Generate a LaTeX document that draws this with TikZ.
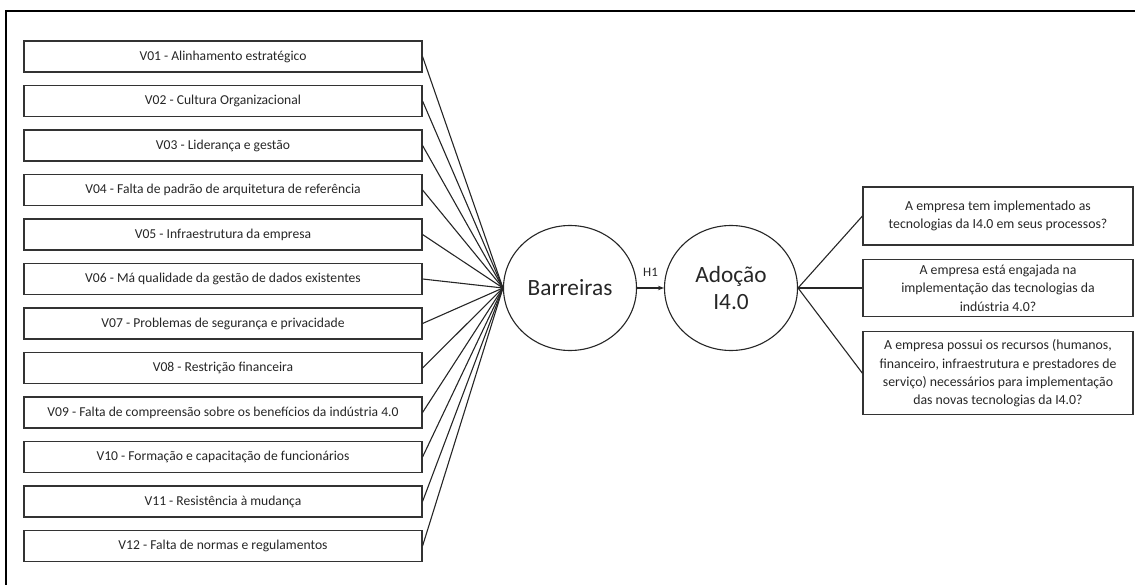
\documentclass[tikz,border=0pt]{standalone}
\usepackage{fontspec}
\setmainfont{Carlito}
\usetikzlibrary{shapes.geometric,arrows.meta}
\tikzset{
  varbox/.style={draw=black!80, line width=1.1pt, minimum width=398pt, minimum height=31pt, inner sep=0pt, font=\fontsize{13.6}{16}\selectfont, text=black!85},
  qbox/.style={draw=black!80, line width=1.1pt, minimum width=270pt, inner sep=0pt, align=center, font=\fontsize{13.8}{18.3}\selectfont, text=black!85},
  latent/.style={ellipse, draw=black!85, line width=1.1pt, minimum width=133pt, minimum height=125pt, inner sep=0pt, align=center, text=black!85},
  link/.style={draw=black!85, line width=1.1pt},
}
\begin{document}
\begin{tikzpicture}[x=1pt,y=-1pt]
\useasboundingbox (0,0) rectangle (1135,585);
\draw[line width=2pt, black] (6,585) -- (6,11) -- (1135,11);
% latent variables
\node[latent, font=\fontsize{23.3}{26.5}\selectfont] (bar) at (570,288) {Barreiras};
\node[latent, font=\fontsize{23.3}{26.7}\selectfont] (ado) at (731,288) {Adoção\\I4.0};
\draw[link, -{Stealth[length=6pt,width=4.5pt]}] (bar.east) -- node[above=8pt, font=\fontsize{13}{15}\selectfont, text=black!85] (h1) {H1} (ado.west);
% left indicators
\foreach \i/\t in {1/{V01 - Alinhamento estratégico},
  2/{V02 - Cultura Organizacional},
  3/{V03 - Liderança e gestão},
  4/{V04 - Falta de padrão de arquitetura de referência},
  5/{V05 - Infraestrutura da empresa},
  6/{V06 - Má qualidade da gestão de dados existentes},
  7/{V07 - Problemas de segurança e privacidade},
  8/{V08 - Restrição financeira},
  9/{V09 - Falta de compreensão sobre os benefícios da indústria 4.0},
  10/{V10 - Formação e capacitação de funcionários},
  11/{V11 - Resistência à mudança},
  12/{V12 - Falta de normas e regulamentos}}{
  \node[varbox] (v\i) at (223,{56.5+44.5*(\i-1)}) {\t};
  \draw[link] (v\i.east) -- (bar.west);
}
% right indicators
\node[qbox, minimum height=58pt] (q1) at (998,216) {A empresa tem implementado as\\tecnologias da I4.0 em seus processos?};
\node[qbox, minimum height=57.5pt] (q2) at (998,288) {A empresa está engajada na\\implementação das tecnologias da\\indústria 4.0?};
\node[qbox, minimum height=83pt] (q3) at (998,373.3) {A empresa possui os recursos (humanos,\\financeiro, infraestrutura e prestadores de\\serviço) necessários para implementação\\das novas tecnologias da I4.0?};
\draw[link] (ado.east) -- (q1.west);
\draw[link] (ado.east) -- (q2.west);
\draw[link] (ado.east) -- (q3.west);
\end{tikzpicture}
\end{document}
